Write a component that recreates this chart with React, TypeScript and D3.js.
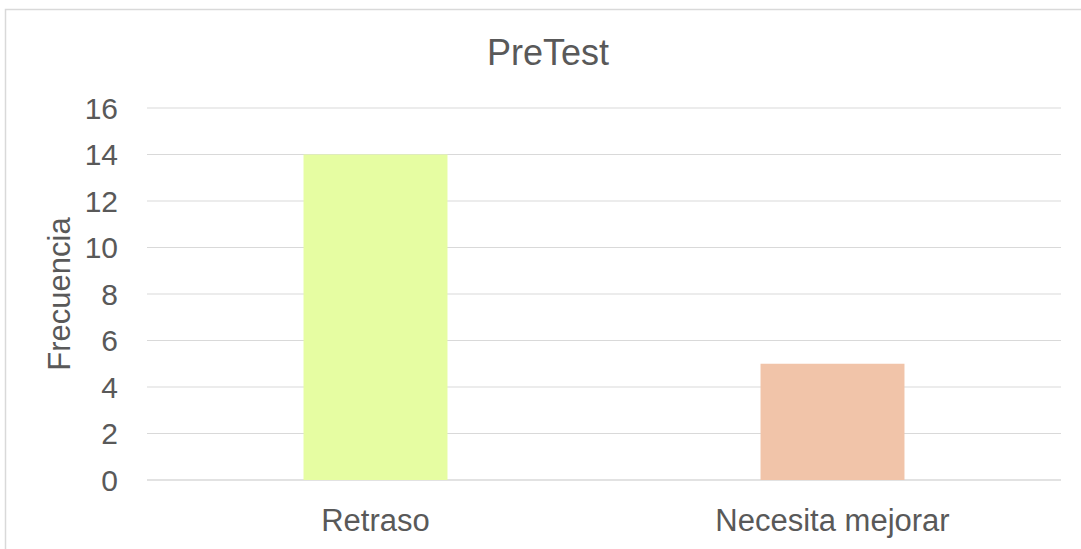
import React from "react";
import * as d3 from "d3";

const categories = ["Retraso", "Necesita mejorar"];
const values = [14, 5];
const colors = ["#e6fda2", "#f1c4a9"];
const yTicks = [0, 2, 4, 6, 8, 10, 12, 14, 16];

export default function App() {
  const W = 1081, H = 549;
  const left = 147, right = 1061, top = 108, bottom = 480;
  const x = d3.scaleBand<string>().domain(categories).range([left, right]).padding(0);
  const y = d3.scaleLinear().domain([0, 16]).range([bottom, top]);
  const bw = x.bandwidth() * 0.315;
  const font = "'Liberation Sans', Arial, sans-serif";
  return (
    <svg width={W} height={H} style={{ position: "absolute", left: 0, top: 0, background: "#fff" }} fontFamily={font}>
      <rect x={5.5} y={9.5} width={W + 10} height={H + 10} fill="#fff" stroke="#d9d9d9" strokeWidth={1.5} />
      <text x={548} y={65} textAnchor="middle" fontSize={36} fill="#595959">PreTest</text>
      {yTicks.map((t) => (
        <g key={t}>
          <line x1={left} x2={right} y1={y(t)} y2={y(t)} stroke="#d9d9d9" strokeWidth={t === 0 ? 1.5 : 1.2} />
          <text x={118} y={y(t)} dy="0.35em" textAnchor="end" fontSize={30} fill="#595959">{t}</text>
        </g>
      ))}
      {categories.map((c, i) => (
        <g key={c}>
          <rect x={x(c)! + x.bandwidth() / 2 - bw / 2} y={y(values[i])} width={bw} height={y(0) - y(values[i])} fill={colors[i]} />
          <text x={x(c)! + x.bandwidth() / 2} y={531} textAnchor="middle" fontSize={31} fill="#595959">{c}</text>
        </g>
      ))}
      <text transform={`translate(70,294) rotate(-90)`} textAnchor="middle" fontSize={31} fill="#595959">Frecuencia</text>
    </svg>
  );
}
